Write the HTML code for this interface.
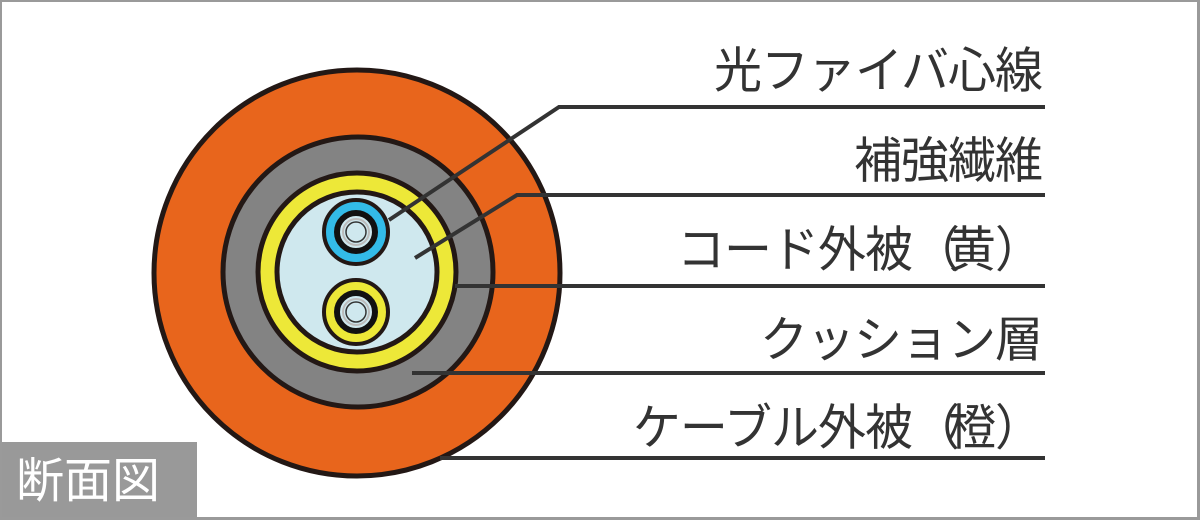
<!DOCTYPE html>
<html><head><meta charset="utf-8"><style>
html,body{margin:0;padding:0;background:#fff}
#c{position:relative;width:1200px;height:520px;overflow:hidden;box-sizing:border-box;border:3px solid #9a9a9a;border-top-width:2px;border-left-width:2px;background:#fff}
.t{position:absolute;right:155px;font-family:"Liberation Sans","Noto Sans CJK JP",sans-serif;font-size:48px;color:#333;line-height:1;white-space:nowrap;letter-spacing:-1px;transform:scaleY(1.02);transform-origin:right center}
.p{letter-spacing:-12px}
#lab{position:absolute;left:-2px;top:440px;width:197px;height:82px;background:#999;color:#fff;font-family:"Liberation Sans","Noto Sans CJK JP",sans-serif;font-size:48px;line-height:80px;padding-left:16px;box-sizing:border-box}
svg{position:absolute;left:-2px;top:-2px}
</style></head><body><div id="c">
<svg width="1200" height="520" viewBox="0 0 1200 520">
<circle cx="357" cy="273" r="203" fill="#e8651c" stroke="#231815" stroke-width="5"/>
<circle cx="358" cy="272" r="135" fill="#838383" stroke="#231815" stroke-width="5"/>
<circle cx="357" cy="272" r="99" fill="#ede838" stroke="#231815" stroke-width="5"/>
<circle cx="357" cy="272" r="80" fill="#cfe8ee" stroke="#231815" stroke-width="5"/>
<circle cx="356" cy="232" r="32" fill="#33bbe8" stroke="#231815" stroke-width="4"/>
<circle cx="356" cy="232" r="19" fill="#cfe8ee" stroke="#111" stroke-width="6"/>
<circle cx="356" cy="232" r="13" fill="none" stroke="#bbb" stroke-width="2"/>
<circle cx="356" cy="232" r="10" fill="none" stroke="#333" stroke-width="1.5"/>
<circle cx="356" cy="312" r="32" fill="#ede838" stroke="#231815" stroke-width="4"/>
<circle cx="356" cy="312" r="19" fill="#cfe8ee" stroke="#111" stroke-width="6"/>
<circle cx="356" cy="312" r="13" fill="none" stroke="#bbb" stroke-width="2"/>
<circle cx="356" cy="312" r="10" fill="none" stroke="#333" stroke-width="1.5"/>
<g stroke="#333" stroke-width="4" fill="none">
<polyline points="389,220 559,107 1045,107"/>
<polyline points="415,258 517,195 1045,195"/>
<polyline points="455,286 1045,286"/>
<polyline points="412,373 1045,373"/>
<polyline points="440,458 1045,458"/>
</g>
</svg>
<div class="t" style="top:46px">光ファイバ心線</div>
<div class="t" style="top:136px">補強繊維</div>
<div class="t" style="top:225px">コード外被<span class="p">（</span>黄）</div>
<div class="t" style="top:315px">クッション層</div>
<div class="t" style="top:403px">ケーブル外被<span class="p">（</span>橙）</div>
<div id="lab">断面図</div>
</div></body></html>
